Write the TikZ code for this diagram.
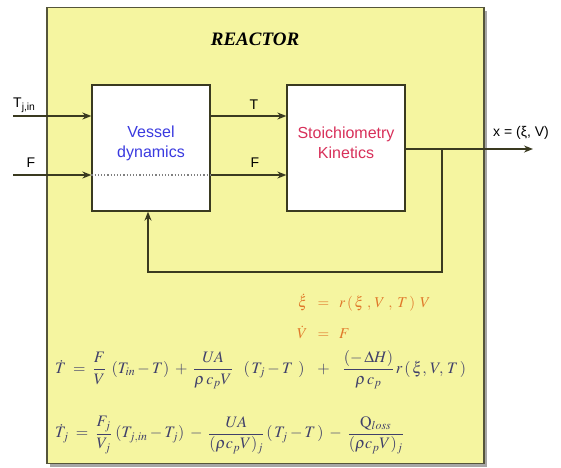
\documentclass[tikz,border=0pt]{standalone}
\usepackage{amsmath}
\usepackage{mathptmx}
\usepackage{fontspec}
\setmainfont{Liberation Serif}
\setsansfont{Liberation Sans}
\usetikzlibrary{arrows.meta}
\definecolor{reactorfill}{HTML}{F5F5A0}
\definecolor{framec}{HTML}{55553A}
\definecolor{linec}{HTML}{3A3A20}
\definecolor{vesselblue}{HTML}{3A3AE0}
\definecolor{stoichred}{HTML}{D8305A}
\definecolor{eqorange}{HTML}{E0782A}
\definecolor{eqnavy}{HTML}{40406A}
\begin{document}
\begin{tikzpicture}[x=1pt,y=-1pt,
  blockbox/.style={draw=linec, fill=white, line width=1.3pt, minimum width=118pt, minimum height=126pt, inner sep=0pt},
  sig/.style={draw=linec, line width=1.4pt, -{Stealth[length=9pt,width=7pt]}},
  lbl/.style={font=\sffamily\fontsize{14}{16}\selectfont, inner sep=0pt},
  blocktext/.style={font=\sffamily\fontsize{16}{20}\selectfont, align=center, inner sep=0pt},
  eqtext/.style={text=eqnavy, anchor=west, inner sep=0pt, font=\fontsize{16}{18}\selectfont}]
\useasboundingbox (0,0) rectangle (561,467);
% outer reactor frame with shadow
\fill[gray!70] (50,11) rectangle (487,467);
\node[draw=framec, fill=reactorfill, line width=1.5pt, minimum width=437pt, minimum height=456pt, inner sep=0pt] (reactor) at (265.5,235.5) {};
\node[font=\rmfamily\bfseries\itshape\fontsize{19}{22}\selectfont, inner sep=0pt] (title) at (255,39) {REACTOR};
% blocks
\node[blockbox] (vessel) at (151,148) {};
\node[blockbox] (stoich) at (346,148) {};
\node[blocktext, text=vesselblue] (vtext) at (151,143) {Vessel\\dynamics};
\node[blocktext, text=stoichred] (stext) at (346,143) {Stoichiometry\\Kinetics};
% coordinates
\coordinate (tjin) at (13,116);
\coordinate (fin) at (13,175);
\coordinate (xout) at (533,149);
\coordinate (br) at (442,149);
\coordinate (fbl) at (148,272);
% connectors
\draw[sig] (tjin) -- (tjin -| vessel.west);
\draw[sig] (fin) -- (fin -| vessel.west);
\draw[gray, line width=1.2pt, dotted] (fin -| vessel.west) -- (fin -| vessel.east);
\draw[sig] (tjin -| vessel.east) -- (tjin -| stoich.west);
\draw[sig] (fin -| vessel.east) -- (fin -| stoich.west);
\draw[sig] (stoich.east |- xout) -- (xout);
\draw[sig] (br) |- (fbl) -- (fbl |- vessel.south);
% labels
\node[lbl, anchor=south west] (ltjin) at (13,113) {T\textsubscript{j,in}};
\node[lbl, anchor=south] (lf) at (31,168) {F};
\node[lbl, anchor=south] (lt) at (254,110) {T};
\node[lbl, anchor=south] (lf2) at (255,168) {F};
\node[lbl, anchor=south west] (lx) at (493,140) {x = (ξ, V)};
% equations
\node[text=eqorange, anchor=west, inner sep=0pt, font=\fontsize{15}{26}\selectfont] (eq1) at (297,318)
  {$\begin{aligned}\dot{\xi} \;\;&=\;\; r\,(\,\xi\;,\,V\;,\;T\,)\;\,V\\[2pt] \dot{V} \;\;&=\;\; F\end{aligned}$};
\node[eqtext] (eq2) at (55,370)
  {$\dot{T} \;=\; \dfrac{F}{V}\;\,(T_{in}-T) \;+\; \dfrac{UA}{\rho\, c_p V}\;\;\;(\,T_j - T\;\,) \;\;\;+\;\;\; \dfrac{(-\,\Delta H)}{\rho\, c_p}\, r\,(\,\xi,\,V,\,T\,)$};
\node[eqtext] (eq3) at (55,435)
  {$\dot{T}_j \;=\; \dfrac{F_j}{V_j}\;(T_{j,in}-T_j) \;-\; \dfrac{UA}{(\rho c_p V)_j}\,(\,T_j - T\,) \;-\; \dfrac{\mathrm{Q}_{loss}}{(\rho c_p V)_j}$};
\end{tikzpicture}
\end{document}
